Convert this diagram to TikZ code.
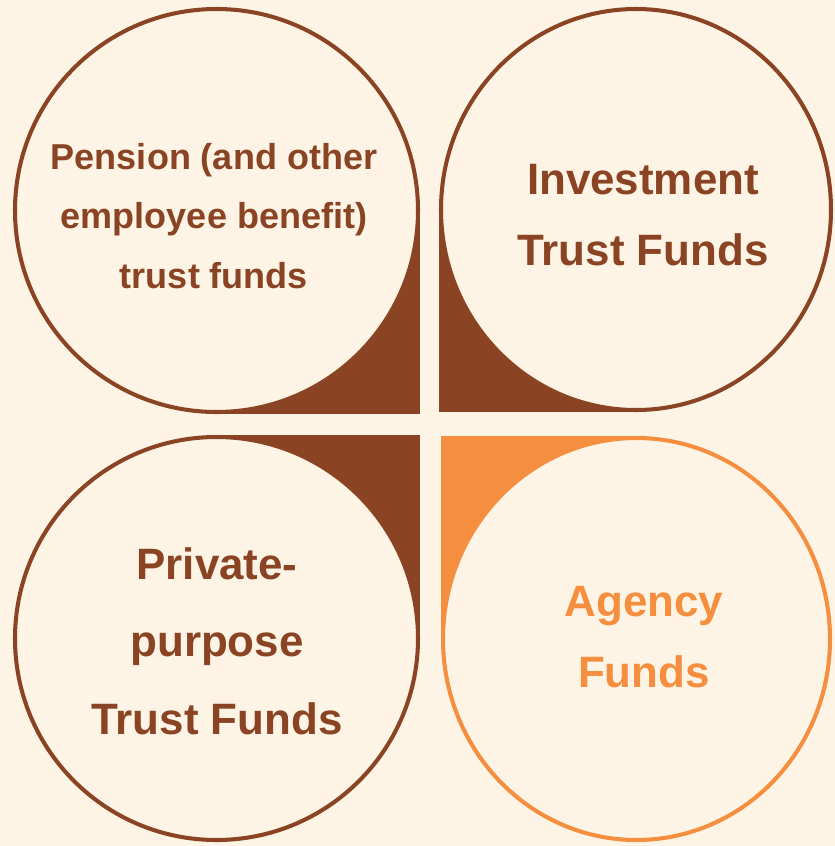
\documentclass[tikz,border=0pt]{standalone}
\usepackage{fontspec}
\setmainfont{Liberation Sans}
\usetikzlibrary{positioning}

\definecolor{cream}{HTML}{FDF4E5}
\definecolor{rust}{HTML}{8A4424}
\definecolor{apricot}{HTML}{F68E3F}

\tikzset{
  ring/.style={line width=2.3pt, fill=cream},
  smalltxt/.style={font=\fontsize{20.5}{34}\selectfont\bfseries, align=center, text=rust},
  bigtxt/.style={font=\fontsize{25}{40}\selectfont\bfseries, align=center, text=rust},
}

\begin{document}
\begin{tikzpicture}[x=0.02cm, y=-0.02cm]
\def\lw{2}   % half of the ring width, in px
% Page
\fill[cream] (0,0) rectangle (835,846);
\useasboundingbox (0,0) rectangle (835,846);

% Corner wedges (square corner left over by each ring)
\fill[rust] (216.5,210.5) rectangle (420,414);
\fill[rust] (439,209.5) rectangle (636,412);
\fill[rust] (216.5,435) rectangle (420,638.5);
\fill[apricot] (441,436) rectangle (636.5,639);

% Rings
\draw[ring, draw=rust] (216.5,210.5) circle[radius=203.5-\lw];
\draw[ring, draw=rust] (636,209.5) ellipse[x radius=197-\lw, y radius=202.5-\lw];
\draw[ring, draw=rust] (216.5,638.5) circle[radius=203.5-\lw];
\draw[ring, draw=apricot] (636.5,639) ellipse[x radius=195.5-\lw, y radius=203-\lw];

% Labels
\node[smalltxt] (pension) at (214,216) {Pension (and other\\employee benefit)\\trust funds};
\node[bigtxt] (invest) at (643,215) {Investment\\Trust Funds};
\node[bigtxt, font=\fontsize{25}{44}\selectfont\bfseries] (private) at (217,641) {Private-\\purpose\\Trust Funds};
\node[bigtxt, text=apricot] (agency) at (644,637) {Agency\\Funds};
\end{tikzpicture}
\end{document}
